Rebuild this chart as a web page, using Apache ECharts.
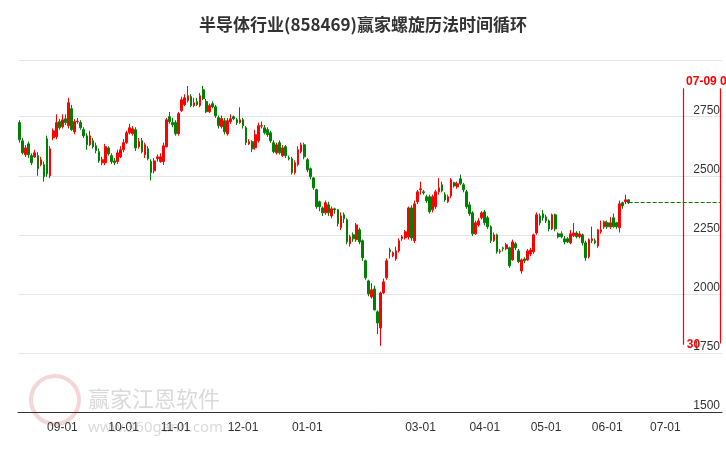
<!DOCTYPE html>
<html><head><meta charset="utf-8">
<script src="https://cdn.jsdelivr.net/npm/echarts@6/dist/echarts.min.js"></script>
<style>html,body{margin:0;padding:0;background:#fff}#c{width:726px;height:450px}</style>
</head><body><div id="c"></div>
<script>
const opens=[2725,2648,2589,2635,2585,2580,2585,2547,2547,2657,2500,2661,2665,2729,2708,2741,2712,2784,2686,2729,2725,2695,2669,2631,2648,2627,2602,2555,2555,2618,2585,2563,2560,2580,2610,2640,2682,2678,2695,2623,2648,2589,2614,2560,2521,2572,2560,2560,2623,2750,
2725,2725,2678,2775,2801,2818,2835,2797,2814,2797,2864,2814,2771,2805,2792,2746,2708,2733,2678,2729,2750,2737,2725,2737,2703,2635,2644,2619,2648,2710,2703,2695,2682,2640,2597,2640,2585,2623,2576,2572,2513,2547,2602,2631,2568,2530,2491,2441,2390,2364,
2343,2377,2330,2360,2356,2280,2335,2314,2212,2250,2229,2271,2225,2140,2055,1987,2021,1924,1856,2004,2068,2186,2161,2148,2182,2233,2237,2241,2364,2225,2390,2441,2432,2411,2411,2356,2369,2432,2462,2420,2390,2415,2470,2453,2487,2462,2432,2377,2343,2254,
2292,2322,2347,2322,2284,2225,2250,2178,2195,2191,2195,2144,2212,2182,2097,2148,2144,2169,2178,2258,2330,2339,2326,2309,2275,2335,2254,2254,2233,2233,2216,2246,2258,2242,2250,2216,2157,2225,2225,2203,2263,2284,2301,2284,2322,2301,2280,2386,2390,2398];
const closes=[2652,2597,2618,2589,2555,2597,2530,2568,2496,2508,2614,2690,2725,2703,2737,2725,2809,2695,2729,2731,2703,2669,2631,2669,2623,2606,2563,2568,2623,2593,2560,2555,2597,2610,2640,2682,2703,2699,2618,2644,2602,2631,2572,2513,2563,2580,2580,2627,2737,2729,
2716,2678,2763,2822,2830,2839,2797,2809,2801,2839,2826,2771,2797,2792,2754,2712,2742,2686,2733,2741,2741,2725,2737,2712,2640,2644,2614,2674,2712,2712,2682,2674,2648,2602,2631,2597,2618,2585,2572,2513,2555,2610,2631,2580,2525,2496,2449,2369,2369,2343,
2386,2343,2360,2356,2297,2330,2318,2220,2242,2233,2292,2220,2153,2068,2000,2017,1932,1877,2004,2051,2140,2178,2174,2182,2225,2242,2263,2364,2237,2381,2432,2445,2428,2394,2348,2411,2432,2449,2436,2398,2411,2483,2457,2466,2466,2441,2369,2339,2254,2301,
2309,2343,2301,2284,2225,2250,2178,2182,2191,2208,2119,2220,2195,2136,2144,2140,2182,2186,2250,2335,2301,2322,2309,2275,2335,2275,2242,2242,2220,2220,2254,2258,2242,2254,2216,2153,2229,2233,2216,2271,2271,2305,2284,2301,2284,2284,2381,2373,2398,2386];
const highs=[2735,2660,2630,2645,2595,2610,2600,2580,2560,2670,2625,2700,2760,2740,2760,2760,2830,2800,2740,2745,2735,2705,2680,2690,2660,2640,2615,2580,2635,2625,2595,2575,2610,2625,2655,2690,2720,2710,2705,2660,2660,2640,2625,2570,2575,2590,2595,2640,2745,2770,
2745,2735,2770,2835,2845,2880,2845,2830,2830,2850,2880,2825,2805,2815,2800,2755,2755,2745,2745,2760,2755,2745,2790,2745,2710,2655,2650,2695,2725,2730,2715,2705,2690,2650,2640,2650,2630,2630,2585,2580,2565,2625,2640,2640,2575,2535,2495,2445,2395,2370,
2395,2390,2370,2365,2360,2345,2345,2320,2250,2260,2300,2280,2230,2145,2060,2045,2035,1930,2010,2065,2150,2195,2180,2200,2235,2250,2270,2370,2375,2395,2440,2475,2440,2420,2420,2420,2440,2490,2475,2430,2420,2490,2475,2475,2505,2470,2440,2390,2350,2310,
2320,2350,2355,2330,2290,2260,2255,2190,2200,2215,2200,2230,2220,2190,2150,2155,2190,2195,2255,2345,2340,2355,2335,2315,2340,2340,2260,2265,2245,2240,2270,2300,2265,2265,2255,2225,2235,2285,2235,2275,2310,2310,2310,2325,2340,2305,2395,2390,2420,2400];
const lows=[2640,2590,2580,2575,2545,2575,2500,2540,2475,2495,2490,2650,2655,2695,2700,2715,2700,2690,2675,2720,2695,2660,2610,2625,2615,2595,2555,2545,2545,2585,2550,2545,2550,2575,2600,2635,2675,2670,2605,2615,2595,2575,2565,2480,2510,2560,2555,2545,2620,2720,
2705,2670,2670,2770,2795,2810,2790,2790,2795,2790,2820,2765,2765,2785,2745,2700,2700,2675,2670,2720,2735,2715,2720,2700,2630,2630,2600,2610,2640,2700,2675,2665,2640,2595,2590,2590,2580,2575,2565,2505,2505,2540,2595,2570,2515,2485,2440,2360,2350,2330,
2335,2330,2320,2340,2285,2270,2300,2210,2200,2220,2220,2210,2140,2060,1990,1980,1930,1830,1780,2000,2060,2150,2155,2140,2175,2225,2230,2230,2225,2215,2380,2420,2420,2385,2340,2345,2360,2420,2430,2390,2385,2405,2450,2445,2460,2430,2360,2330,2245,2250,
2285,2315,2290,2275,2215,2220,2170,2170,2180,2185,2110,2140,2185,2130,2085,2130,2140,2160,2170,2250,2290,2310,2300,2265,2270,2265,2235,2235,2210,2215,2210,2240,2235,2235,2205,2140,2150,2215,2210,2195,2255,2275,2275,2275,2280,2275,2260,2360,2380,2380];

const holidays=['2023-09-29','2023-10-02','2023-10-03','2023-10-04','2023-10-05','2023-10-06','2024-01-01','2024-02-09','2024-02-12','2024-02-13','2024-02-14','2024-02-15','2024-02-16','2024-04-04','2024-04-05','2024-05-01','2024-05-02','2024-05-03','2024-06-10'];
const monthLabels=['09-01','10-01','11-01','12-01','01-01','03-01','04-01','05-01','06-01','07-01'];
const yTicks=[1500,1750,2000,2250,2500,2750];
const cycleDate='07-09';
const cycleText='30';

const dates=[];
let d=new Date(Date.UTC(2023,7,14));
while(dates.length<230){
  const wd=d.getUTCDay();
  const s=d.toISOString().slice(0,10);
  if(wd!==0&&wd!==6&&(holidays.indexOf(s)<0||dates.length>=opens.length)) dates.push(s);
  d=new Date(d.getTime()+86400000);
}
const cats=dates.map(s=>s.slice(5));
const labelIdx={};
let prevM='';
dates.forEach((s,i)=>{const m=s.slice(5,7);if(m!==prevM){const lab=m+'-01';if(monthLabels.indexOf(lab)>=0)labelIdx[i]=lab;prevM=m;}});
const kdata=opens.map((o,i)=>[o,closes[i],lows[i],highs[i]]);
const last=closes[closes.length-1];
const cycleIdx=cats.indexOf(cycleDate);
const RL={color:'#ff0000',type:'solid',width:1.2,opacity:1};
const GL={color:'#008000',type:'dashed',width:1,opacity:1};

const chart=echarts.init(document.getElementById('c'));
chart.setOption({
  animation:false,
  title:{text:'半导体行业(858469)赢家螺旋历法时间循环',left:'center',top:11,textStyle:{fontSize:17,fontWeight:'bold',color:'#333',fontFamily:'Noto Sans CJK SC'}},
  grid:{left:18,right:4,top:60,bottom:38},
  graphic:[
    {type:'text',left:88,top:388,style:{text:'赢家江恩软件',fontSize:22,fill:'rgba(150,150,150,0.35)',fontFamily:'Noto Sans CJK SC'}},
    {type:'text',left:88,top:420,style:{text:'www.360gann.com',fontSize:15,fill:'rgba(150,150,150,0.35)',fontFamily:'Noto Sans'}},
    {type:'circle',shape:{cx:55,cy:400,r:24},style:{fill:'none',stroke:'rgba(220,120,120,0.3)',lineWidth:4}}
  ],
  xAxis:{type:'category',data:cats,boundaryGap:true,
    axisLine:{lineStyle:{color:'#333'}},
    axisTick:{interval:(i)=>labelIdx[i]!==undefined,length:6,lineStyle:{color:'#333'}},
    axisLabel:{interval:(i)=>labelIdx[i]!==undefined,formatter:(v,i)=>labelIdx[i]||'',color:'#333',fontSize:12,margin:10},
    splitLine:{show:false}},
  yAxis:{type:'value',position:'right',min:1500,max:2990,interval:250,
    axisLine:{show:false},axisTick:{show:false},
    axisLabel:{inside:true,verticalAlign:'bottom',color:'#333',fontSize:12,margin:2,formatter:v=>yTicks.indexOf(v)>=0?String(v):''},
    splitLine:{lineStyle:{color:'#e6e6e6'}}},
  series:[
    {type:'candlestick',data:kdata,barWidth:2.2,
     itemStyle:{color:'#ff0000',color0:'#008000',borderColor:'#ff0000',borderColor0:'#008000',borderWidth:1}},
    {type:'line',data:[],color:'#ff0000',itemStyle:{color:'#ff0000'},lineStyle:{color:'#ff0000'},
     markPoint:{symbol:'circle',symbolSize:0,silent:true,data:[
       {coord:[cycleIdx,1785],label:{show:true,formatter:cycleText,color:'#ff0000',fontWeight:'bold',fontSize:12,position:'right',offset:[-2,0]}}
     ]},
     markLine:{symbol:'none',silent:true,animation:false,itemStyle:{color:'#ff0000'},lineStyle:RL,data:[
       [{coord:[cycleIdx,2870],lineStyle:RL,itemStyle:{color:'#ff0000'},label:{show:true,position:'start',formatter:cycleDate+' 00',color:'#ff0000',fontWeight:'bold',fontSize:12,offset:[26,4]}},{coord:[cycleIdx,1785],lineStyle:RL}],
       [{coord:[cats.length-1,2870],lineStyle:RL,itemStyle:{color:'#ff0000'},label:{show:false}},{coord:[cats.length-1,1790],lineStyle:RL}]
     ]}},
    {type:'line',data:[],color:'#008000',itemStyle:{color:'#008000'},
     markLine:{symbol:'none',silent:true,animation:false,itemStyle:{color:'#008000'},lineStyle:GL,label:{show:false},data:[
       [{coord:[closes.length-1,last],lineStyle:GL},{coord:[cats.length-1,last],lineStyle:GL}]
     ]}}
  ]
});
</script></body></html>
